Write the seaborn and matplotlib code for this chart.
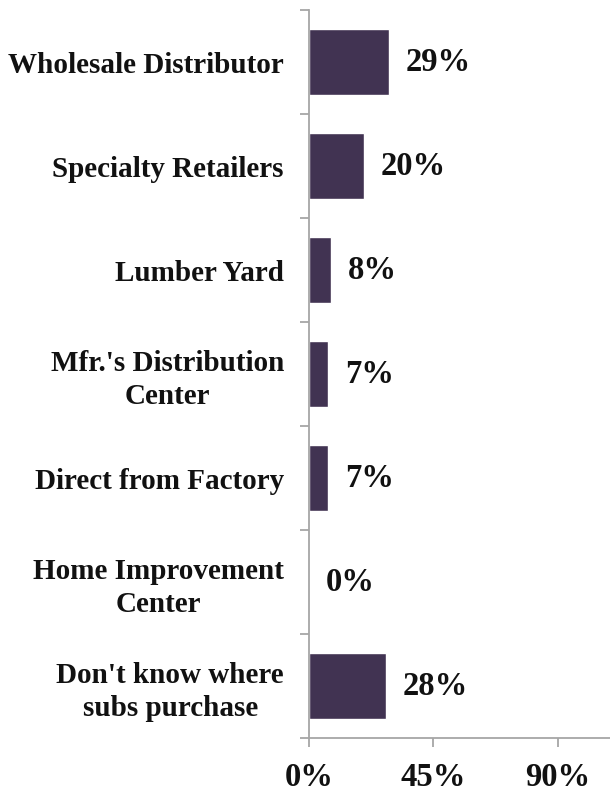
import matplotlib
matplotlib.use("Agg")
import matplotlib.pyplot as plt
import seaborn as sns
import pandas as pd
import numpy as np

categories = [
    "Wholesale Distributor",
    "Specialty Retailers",
    "Lumber Yard",
    "Mfr.'s Distribution\nCenter",
    "Direct from Factory",
    "Home Improvement\nCenter",
    "Don't know where\nsubs purchase",
]
shares = [29, 20, 8, 7, 7, 0, 28]
x_ticks = [0, 45, 90]
x_tick_labels = ["0%", "45%", "90%"]

df = pd.DataFrame({"category": categories, "share": shares})

sns.set_theme(style="white")
plt.rcParams["font.family"] = ["Liberation Serif", "DejaVu Serif"]

fig = plt.figure(figsize=(6.10, 7.93), dpi=100)
ax = fig.add_axes([309 / 610, 1 - 738 / 793, 1 - 309 / 610, (738 - 10) / 793])

sns.barplot(data=df, x="share", y="category", orient="h", color="#413352",
            saturation=1, width=0.63, ax=ax)

ax.set_xlim(0, 109)
ax.set_ylim(len(categories) - 0.5, -0.5)
ax.set_xlabel("")
ax.set_ylabel("")

axis_color = "#A6A6A6"
for side in ("top", "right"):
    ax.spines[side].set_visible(False)
for side in ("left", "bottom"):
    ax.spines[side].set_color(axis_color)
    ax.spines[side].set_linewidth(1.3)

text_color = "#111111"
ax.set_xticks(x_ticks)
ax.set_xticklabels(x_tick_labels, fontsize=23.5, fontweight="bold", color=text_color)
ax.tick_params(axis="x", direction="out", length=6.5, width=1.3, color=axis_color,
               pad=11, bottom=True)

ax.set_yticks(range(len(categories)))
ax.set_yticklabels(categories, fontsize=21, fontweight="bold", color=text_color)
for lab in ax.get_yticklabels():
    lab.set_multialignment("center")
    lab.set_linespacing(1.3)
ax.tick_params(axis="y", which="major", length=0, pad=18, left=False)
ax.set_yticks(np.arange(-0.5, len(categories), 1.0), minor=True)
ax.tick_params(axis="y", which="minor", direction="out", length=6.5, width=1.3,
               color=axis_color, left=True)

for i, v in enumerate(shares):
    ax.annotate(f"{v}%", xy=(v, i), xytext=(12, 0), textcoords="offset points",
                va="center", ha="left", fontsize=23.5, fontweight="bold", color=text_color)

fig.savefig("out.png", dpi=100)
